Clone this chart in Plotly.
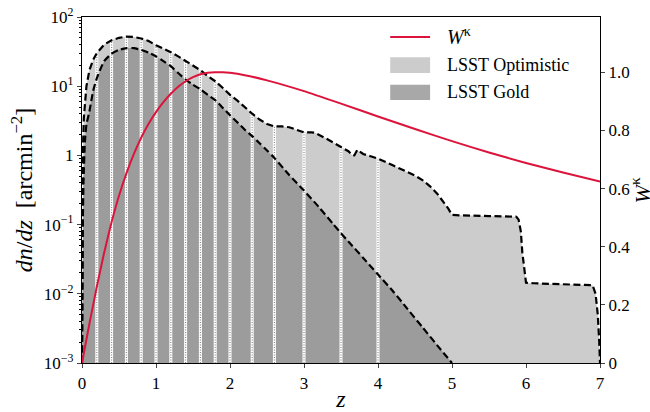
import numpy as np
import plotly.graph_objects as go

# Redshift distributions dn/dz [arcmin^-2]
z_opt = [0.0, 0.003, 0.008, 0.015, 0.025, 0.04, 0.06, 0.1, 0.15, 0.2, 0.3, 0.4, 0.5,
         0.6, 0.7, 0.8, 0.9, 1.0, 1.1, 1.2, 1.3, 1.4, 1.5, 1.6, 1.7, 1.8, 1.9, 2.0,
         2.1, 2.2, 2.3, 2.4, 2.5, 2.6, 2.7, 2.8, 2.9, 3.0, 3.1, 3.15, 3.3, 3.5, 3.6,
         3.65, 3.68, 3.72, 3.8, 3.9, 4.0, 4.2, 4.4, 4.5, 4.6, 4.7, 4.8, 4.9, 4.95,
         5.0, 5.1, 5.5, 5.87, 5.9, 5.93, 5.95, 5.98, 6.0, 6.1, 6.5, 6.9, 6.94, 6.97,
         6.99, 7.0]
n_opt = [1e-3, 0.02, 0.3, 1.5, 3.5, 6.3, 10.0, 17.0, 24.0, 30.0, 40.0, 46.0, 50.0,
         52.0, 51.5, 49.0, 45.0, 39.0, 35.0, 31.0, 27.0, 23.0, 19.5, 17.0, 14.0, 11.8,
         9.5, 7.5, 6.2, 4.9, 4.0, 3.3, 2.85, 2.62, 2.62, 2.55, 2.35, 2.15, 2.15, 2.12,
         1.75, 1.32, 1.15, 1.01, 1.0, 1.2, 1.05, 0.97, 0.9, 0.72, 0.58, 0.51, 0.44,
         0.36, 0.28, 0.204, 0.17, 0.138, 0.136, 0.133, 0.13, 0.118, 0.08, 0.04, 0.02,
         0.0145, 0.0142, 0.0138, 0.0133, 0.01, 0.005, 0.002, 1e-3]

z_gold = [0.0, 0.005, 0.01, 0.02, 0.04, 0.06, 0.1, 0.15, 0.2, 0.3, 0.4, 0.5, 0.6, 0.7,
          0.8, 0.9, 1.0, 1.1, 1.2, 1.3, 1.4, 1.5, 1.6, 1.7, 1.8, 1.9, 2.0, 2.1, 2.2,
          2.3, 2.4, 2.5, 2.6, 2.8, 3.0, 3.2, 3.4, 3.5, 3.6, 3.8, 4.0, 4.2, 4.4, 4.6,
          4.8, 5.0]
n_gold = [1e-3, 0.01, 0.08, 0.4, 1.6, 2.8, 4.3, 8.5, 13.0, 23.0, 29.5, 33.5, 35.5,
          35.5, 33.5, 30.5, 27.0, 23.0, 19.5, 15.5, 12.5, 10.5, 9.0, 7.5, 6.3, 4.9,
          3.8, 3.0, 2.35, 1.9, 1.5, 1.18, 0.92, 0.52, 0.31, 0.18, 0.1, 0.075, 0.057,
          0.033, 0.019, 0.011, 0.006, 0.0033, 0.0018, 1e-3]

# Lensing kernel W^kappa (right axis)
z_w = [0.0, 0.1, 0.2, 0.3, 0.4, 0.5, 0.6, 0.7, 0.8, 0.9, 1.0, 1.1, 1.2, 1.3, 1.4,
       1.5, 1.6, 1.7, 1.8, 1.9, 2.0, 2.2, 2.5, 3.0, 3.5, 4.0, 4.5, 5.0, 5.5, 6.0,
       6.5, 7.0]
w_kappa = [0.0, 0.135, 0.262, 0.38, 0.485, 0.575, 0.652, 0.718, 0.775, 0.823, 0.863,
           0.897, 0.926, 0.95, 0.969, 0.983, 0.993, 0.998, 1.0, 1.0, 0.998, 0.99,
           0.972, 0.935, 0.892, 0.848, 0.805, 0.763, 0.724, 0.688, 0.655, 0.624]

# Tomographic bin edges
bin_edges = [0.2, 0.4, 0.6, 0.8, 1.0, 1.2, 1.4, 1.6, 1.8, 2.0, 2.3, 2.6, 3.0, 3.5, 4.0]

y_tickvals = [1e-3, 1e-2, 1e-1, 1, 10, 100]
y_ticktext = ["10<sup>−3</sup>", "10<sup>−2</sup>", "10<sup>−1</sup>", "1",
              "10<sup>1</sup>", "10<sup>2</sup>"]
w_tickvals = [0, 0.2, 0.4, 0.6, 0.8, 1.0]
w_ticktext = ["0", "0.2", "0.4", "0.6", "0.8", "1.0"]

C_OPT = "#cccccc"
C_GOLD = "#9c9c9c"
C_RED = "#dc143c"
FONT = "Liberation Serif"

fig = go.Figure()

# filled distributions
fig.add_trace(go.Scatter(x=z_opt, y=n_opt, mode="lines", fill="toself",
                         fillcolor=C_OPT, line=dict(width=0), showlegend=False,
                         hoverinfo="skip"))
fig.add_trace(go.Scatter(x=z_gold, y=n_gold, mode="lines", fill="toself",
                         fillcolor=C_GOLD, line=dict(width=0), showlegend=False,
                         hoverinfo="skip"))

# bin edge markers, running up to the optimistic curve
log_top = np.interp(bin_edges, z_opt, np.log10(n_opt))
ex, ey = [], []
for e, lt in zip(bin_edges, log_top):
    ex += [e, e, None]
    ey += [1e-3, 10 ** lt, None]
fig.add_trace(go.Scatter(x=ex, y=ey, mode="lines", line=dict(color="white", width=3),
                         showlegend=False, hoverinfo="skip"))
fig.add_trace(go.Scatter(x=ex, y=ey, mode="lines",
                         line=dict(color="#8c8c8c", width=1.2, dash="1px,1.5px"),
                         showlegend=False, hoverinfo="skip"))

# dashed outlines
fig.add_trace(go.Scatter(x=z_opt, y=n_opt, mode="lines",
                         line=dict(color="black", width=2.2, dash="7px,3.5px"),
                         showlegend=False, hoverinfo="skip"))
fig.add_trace(go.Scatter(x=z_gold, y=n_gold, mode="lines",
                         line=dict(color="black", width=2.2, dash="7px,3.5px",
                                   shape="spline", smoothing=0.6),
                         showlegend=False, hoverinfo="skip"))

# lensing kernel on the right axis
fig.add_trace(go.Scatter(x=z_w, y=w_kappa, mode="lines", yaxis="y2",
                         line=dict(color=C_RED, width=2, shape="spline", smoothing=0.5),
                         showlegend=False, hoverinfo="skip"))

# legend drawn in paper coordinates
shapes = [
    dict(type="line", xref="paper", yref="paper", x0=0.595, x1=0.672, y0=0.942,
         y1=0.942, line=dict(color=C_RED, width=2)),
    dict(type="rect", xref="paper", yref="paper", x0=0.595, x1=0.672, y0=0.838,
         y1=0.884, fillcolor=C_OPT, line=dict(width=0)),
    dict(type="rect", xref="paper", yref="paper", x0=0.595, x1=0.672, y0=0.760,
         y1=0.804, fillcolor="#a8a8a8", line=dict(width=0)),
]
legend_text = [("<i>W</i><sup>κ</sup>", 0.945, 20), ("LSST Optimistic", 0.861, 18),
               ("LSST Gold", 0.782, 18)]
annotations = [dict(text=t, x=0.70, y=y, xref="paper", yref="paper", xanchor="left",
                    yanchor="middle", showarrow=False, font=dict(size=s))
               for t, y, s in legend_text]

# right-hand axis title
annotations.append(dict(text="<i>W</i><sup>κ</sup>", x=1.078, y=0.5, xref="paper",
                        yref="paper", xanchor="center", yanchor="middle",
                        textangle=-90, showarrow=False, font=dict(size=22)))

minor_vals = [m * 10.0 ** d for d in range(-3, 2) for m in range(2, 10)]

fig.update_layout(
    width=650, height=412,
    margin=dict(l=82, r=50, t=17, b=49),
    paper_bgcolor="white", plot_bgcolor="white",
    font=dict(family=FONT, size=17, color="black"),
    showlegend=False,
    shapes=shapes, annotations=annotations,
    xaxis=dict(range=[0, 7], tickvals=list(range(8)), ticks="outside", ticklen=4,
               tickwidth=1, showline=True, linecolor="black", linewidth=1.2,
               mirror=True, showgrid=False, zeroline=False, automargin=False,
               title=dict(text="<i>z</i>", font=dict(size=24), standoff=4)),
    yaxis=dict(type="log", range=[-3, 2], tickvals=y_tickvals, ticktext=y_ticktext,
               ticks="outside", ticklen=4, showline=True, linecolor="black",
               linewidth=1.2, showgrid=False, zeroline=False, automargin=False,
               minor=dict(tickvals=minor_vals, ticks="outside", ticklen=2,
                          tickcolor="black", showgrid=False),
               title=dict(text="<i>dn</i>/<i>dz</i>  [arcmin<sup>−2</sup>]",
                          font=dict(size=24), standoff=4)),
    yaxis2=dict(overlaying="y", side="right", range=[0, 1.19], tickvals=w_tickvals,
                ticktext=w_ticktext, ticks="outside", ticklen=4, showline=True,
                linecolor="black", linewidth=1.2, showgrid=False, zeroline=False,
                automargin=False),
)

fig.write_html("out.html")
